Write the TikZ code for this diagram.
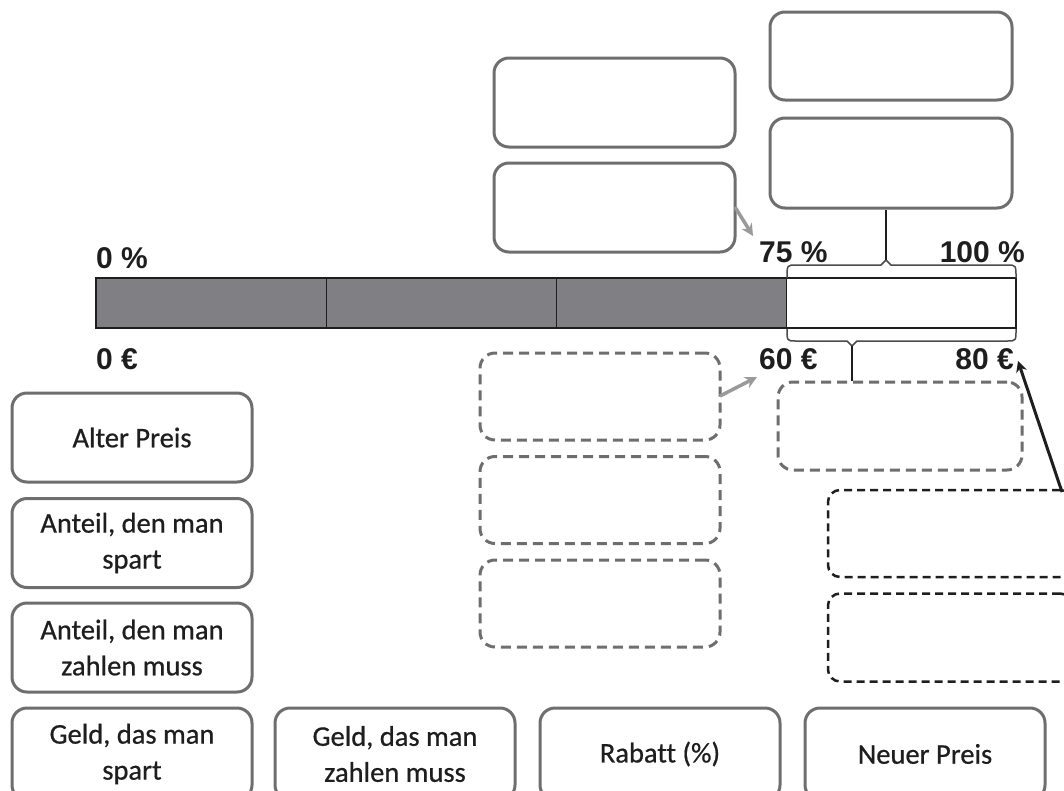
\documentclass[tikz,border=0pt]{standalone}
\usepackage{fontspec}
\setmainfont{Carlito}[FakeBold=0.6,Ligatures=NoCommon]
\newfontfamily\labfont{Liberation Sans}
\usetikzlibrary{arrows.meta}
\definecolor{boxgray}{HTML}{6E6E70}
\definecolor{bargray}{HTML}{808084}
\definecolor{arrgray}{HTML}{9A9A9A}
\definecolor{txt}{HTML}{1E1E1E}
\tikzset{
  solidbox/.style={draw=boxgray, line width=3pt, rounded corners=15pt, minimum width=240pt, minimum height=89pt, inner sep=0pt, align=center, font=\fontsize{28.5}{36}\selectfont, text=txt},
  graydash/.style={draw=boxgray, line width=3pt, rounded corners=15pt, dash pattern=on 10pt off 6pt, minimum width=240pt, minimum height=87pt, inner sep=0pt},
  blackdash/.style={draw=txt, line width=2.5pt, rounded corners=12pt, dash pattern=on 8pt off 5pt, minimum width=244pt, minimum height=87pt, inner sep=0pt},
  lab/.style={font=\labfont\bfseries\fontsize{30}{34}\selectfont, text=txt, inner sep=0pt},
  seg/.style={draw=txt, line width=1pt, fill=bargray, minimum height=50pt, minimum width=230pt, inner sep=0pt},
  brace/.style={draw=txt!80, line width=1.5pt},
  grayarrow/.style={draw=arrgray, line width=3.5pt, -{Stealth[length=12pt,width=12pt]}},
  blackarrow/.style={draw=txt, line width=3pt, -{Stealth[length=11pt,width=11pt]}}
}
\begin{document}
\begin{tikzpicture}[x=1pt,y=-1pt]
\clip (0,0) rectangle (1064,790);
\fill[white] (0,0) rectangle (1064,790);

% bar
\node[seg, anchor=north west] (s1) at (96,278) {};
\node[seg, anchor=north west] (s2) at (326,278) {};
\node[seg, anchor=north west] (s3) at (556,278) {};
\node[seg, anchor=north west, fill=white] (s4) at (786,278) {};
\draw[txt, line width=2.5pt] (96,278) rectangle (1016,328);

% labels
\node[lab, anchor=base west] (p0) at (96,268) {0 \%};
\node[lab, anchor=base west] (e0) at (96,369) {0 €};
\node[lab, anchor=base west] (p75) at (759,262) {75 \%};
\node[lab, anchor=base east] (p100) at (1025,262) {100 \%};
\node[lab, anchor=base west] (e60) at (759,369) {60 €};
\node[lab, anchor=base east] (e80) at (1014,369) {80 €};

% top boxes
\node[solidbox, minimum width=242pt, minimum height=88pt] (ta) at (891,56) {};
\node[solidbox, minimum width=242pt, minimum height=90pt] (tb) at (891,163) {};
\node[solidbox, minimum width=241pt] (mc) at (614.5,102.5) {};
\node[solidbox, minimum width=241pt] (md) at (614.5,207.5) {};

% dashed boxes
\node[graydash] (d1) at (600,396.5) {};
\node[graydash] (d2) at (600,500) {};
\node[graydash] (d3) at (600,603.5) {};
\node[graydash, minimum width=244pt, minimum height=88pt] (dr) at (900,426) {};
\node[blackdash] (k1) at (950,533.5) {};
\node[blackdash, minimum height=88pt] (k2) at (950,637.5) {};

% braces
\coordinate (tt) at (886,260);
\coordinate (bt) at (852,346);
\draw[brace] (787,278) .. controls (787,265) .. (796,265) -- (881,265) -- (tt) -- (891,265) -- (1007,265) .. controls (1016,265) .. (1016,278);
\draw[brace] (787,329) .. controls (787,341) .. (796,341) -- (847,341) -- (bt) -- (857,341) -- (1007,341) .. controls (1016,341) .. (1016,329);
\draw[txt, line width=1.5pt] (tt) -- (tb.south -| tt);
\draw[txt, line width=1.5pt] (bt) -- (dr.north -| bt);

% arrows
\coordinate (a1s) at (735,207);
\coordinate (a1e) at (753,236);
\draw[grayarrow] (a1s) -- (a1e);
\coordinate (a2s) at (720,396);
\coordinate (a2e) at (757,377);
\draw[grayarrow] (a2s) -- (a2e);
\coordinate (a3s) at (1062,492);
\coordinate (a3e) at (1018,361);
\draw[blackarrow] (a3s) -- (a3e);

% left boxes
\node[solidbox] (l1) at (132,437.5) {Alter Preis};
\node[solidbox] (l2) at (132,543) {Anteil, den man\\spart};
\node[solidbox] (l3) at (132,647.5) {Anteil, den man\\zahlen muss};
\node[solidbox, minimum height=92pt] (b1) at (132,754) {Geld, das man\\spart};
\node[solidbox, minimum height=92pt] (b2) at (395,754) {Geld, das man\\zahlen muss};
\node[solidbox, minimum height=92pt] (b3) at (660,754) {Rabatt (\%)};
\node[solidbox, minimum height=92pt] (b4) at (925,754) {Neuer Preis};
\end{tikzpicture}
\end{document}
